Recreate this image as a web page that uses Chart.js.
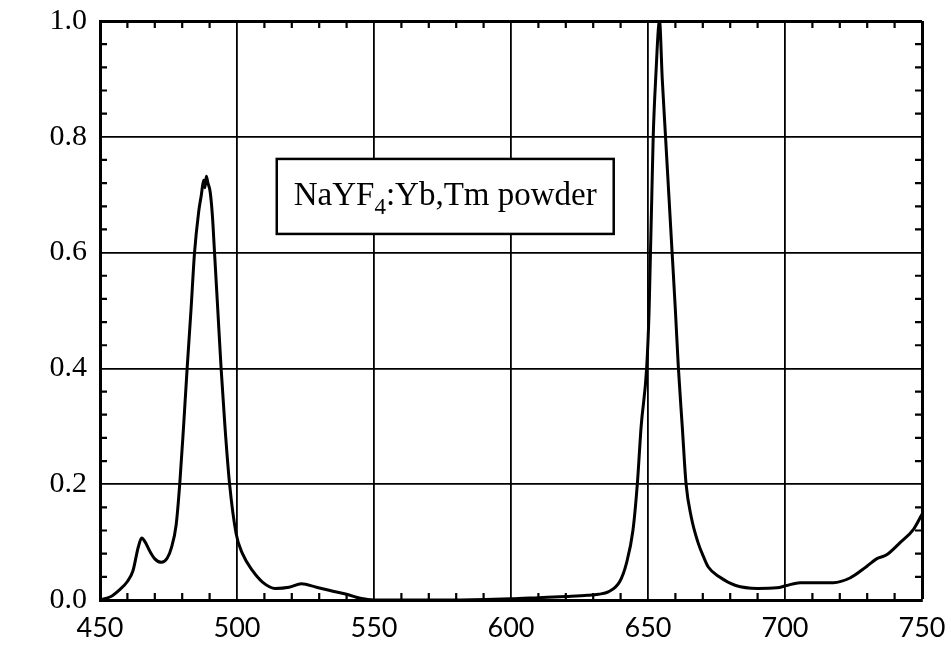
<!DOCTYPE html>
<html>
<head>
<meta charset="utf-8">
<script src="https://cdn.jsdelivr.net/npm/chart.js@4"></script>
<style>
  html, body { margin: 0; padding: 0; background: #fff; }
  #wrap { width: 951px; height: 645px; }
</style>
</head>
<body>
<div id="wrap"><canvas id="spectrum"></canvas></div>
<script>
// emission spectrum
const wavelength = [
  450, 454, 457, 460, 462, 464, 465.2, 466.5, 468.2, 470, 472.4, 474.5, 476.1, 477.8,
  479.1, 480.5, 481.8, 483.2, 484.5, 486, 487, 487.8, 488.3, 488.8, 489.4, 490.2, 491,
  491.8, 493, 494.2, 495.6, 497.3, 499.7, 502, 505.6, 509.3, 514, 519, 523.5, 529, 535,
  540, 545, 550, 580, 600, 610, 620, 628, 632, 635.5, 639.7, 642.1, 644.5, 646.1, 647.5,
  649.5, 650.4, 650.9, 651.4, 651.9, 652.8, 654.2, 655.2, 656.4, 657.6, 658.8, 660,
  661.1, 662.5, 663.9, 665.8, 668.2, 670.5, 672, 676, 682, 690, 697, 700.6, 705.5, 712,
  717.6, 723.7, 729.8, 733.4, 737.1, 742, 746.9, 750
];
const intensity = [
  0, 0.006, 0.017, 0.032, 0.05, 0.092, 0.107, 0.1, 0.084, 0.071, 0.065, 0.072, 0.091, 0.13,
  0.2, 0.3, 0.4, 0.5, 0.6, 0.67, 0.7, 0.725, 0.712, 0.732, 0.72, 0.705, 0.665,
  0.6, 0.5, 0.4, 0.3, 0.2, 0.114, 0.08, 0.051, 0.031, 0.02, 0.022, 0.028, 0.022, 0.015,
  0.01, 0.003, 0, 0, 0.002, 0.004, 0.006, 0.008, 0.01, 0.014, 0.032, 0.063, 0.12, 0.2, 0.3,
  0.4, 0.5, 0.6, 0.7, 0.8, 0.9, 1.0, 0.9, 0.8, 0.7, 0.6, 0.5,
  0.4, 0.3, 0.2, 0.143, 0.1, 0.072, 0.057, 0.04, 0.025, 0.02, 0.021, 0.025, 0.03, 0.03,
  0.03, 0.038, 0.058, 0.071, 0.078, 0.099, 0.122, 0.148
];
const xTicks = [450, 500, 550, 600, 650, 700, 750];
const yTicks = [0, 0.2, 0.4, 0.6, 0.8, 1.0];
const labelParts = ['NaYF', '4', ':Yb,Tm powder'];
const labelAt = { x: 576, y: 0.697 };

const points = wavelength.map((w, i) => ({ x: w, y: intensity[i] }));

// short inward ticks between the grid lines, on all four sides
const minorTicks = {
  id: 'minorTicks',
  afterDraw(chart) {
    const { ctx, chartArea: a, scales: { x, y } } = chart;
    ctx.save();
    ctx.strokeStyle = '#000';
    ctx.lineWidth = 2.2;
    ctx.beginPath();
    for (let v = xTicks[0]; v <= xTicks[xTicks.length - 1]; v += 10) {
      if (xTicks.includes(v)) continue;
      const px = x.getPixelForValue(v);
      ctx.moveTo(px, a.bottom); ctx.lineTo(px, a.bottom - 7);
      ctx.moveTo(px, a.top); ctx.lineTo(px, a.top + 7);
    }
    for (let k = 0; k <= 25; k++) {
      if (k % 5 === 0) continue;
      const py = y.getPixelForValue(k * 0.04);
      ctx.moveTo(a.left, py); ctx.lineTo(a.left + 7, py);
      ctx.moveTo(a.right, py); ctx.lineTo(a.right - 7, py);
    }
    ctx.stroke();
    ctx.restore();
  }
};

// the boxed sample label
const sampleLabel = {
  id: 'sampleLabel',
  afterDraw(chart) {
    const { ctx, scales: { x, y } } = chart;
    const cx = x.getPixelForValue(labelAt.x);
    const cy = y.getPixelForValue(labelAt.y);
    const big = '33px "Liberation Serif"';
    const small = '23px "Liberation Serif"';
    ctx.save();
    ctx.font = big;
    const w0 = ctx.measureText(labelParts[0]).width;
    const w2 = ctx.measureText(labelParts[2]).width;
    ctx.font = small;
    const w1 = ctx.measureText(labelParts[1]).width;
    const total = w0 + w1 + w2;
    const bw = total + 34, bh = 75;
    ctx.fillStyle = '#fff';
    ctx.fillRect(cx - bw / 2, cy - bh / 2, bw, bh);
    ctx.strokeStyle = '#000';
    ctx.lineWidth = 2.5;
    ctx.strokeRect(cx - bw / 2, cy - bh / 2, bw, bh);
    ctx.fillStyle = '#000';
    ctx.textBaseline = 'alphabetic';
    let tx = cx - total / 2;
    const base = cy + 9;
    ctx.font = big;
    ctx.fillText(labelParts[0], tx, base);
    tx += w0;
    ctx.font = small;
    ctx.fillText(labelParts[1], tx, base + 9);
    tx += w1;
    ctx.font = big;
    ctx.fillText(labelParts[2], tx, base);
    ctx.restore();
  }
};

const edgeWidth = (ctx, max) => (ctx.tick && Math.abs(ctx.tick.value - max) < 1e-6 ? 3 : 1.8);

new Chart(document.getElementById('spectrum'), {
  type: 'scatter',
  data: {
    datasets: [{
      data: points,
      showLine: true,
      borderColor: '#000',
      borderWidth: 3,
      pointRadius: 0,
      cubicInterpolationMode: 'monotone'
    }]
  },
  options: {
    responsive: true,
    maintainAspectRatio: false,
    animation: false,
    layout: { padding: { top: 21, right: 29, left: 0, bottom: 0 } },
    plugins: { legend: { display: false }, tooltip: { enabled: false } },
    scales: {
      x: {
        type: 'linear',
        min: 450,
        max: 750,
        afterBuildTicks: (s) => { s.ticks = xTicks.map(v => ({ value: v })); },
        afterFit: (s) => { s.height = 45; s.paddingLeft = 0; s.paddingRight = 0; },
        ticks: {
          color: '#000',
          padding: 12,
          maxRotation: 0,
          font: { family: 'Lato', size: 27 }
        },
        grid: { color: '#000', lineWidth: (c) => edgeWidth(c, 750), drawTicks: false },
        border: { display: true, color: '#000', width: 3 }
      },
      y: {
        min: 0,
        max: 1,
        afterBuildTicks: (s) => { s.ticks = yTicks.map(v => ({ value: v })); },
        afterFit: (s) => { s.width = 100; s.paddingTop = 0; s.paddingBottom = 0; },
        ticks: {
          color: '#000',
          padding: 13,
          callback: (v) => v.toFixed(1),
          font: { family: 'Liberation Serif', size: 30 }
        },
        grid: { color: '#000', lineWidth: (c) => edgeWidth(c, 1), drawTicks: false },
        border: { display: true, color: '#000', width: 3 }
      }
    }
  },
  plugins: [minorTicks, sampleLabel]
});
</script>
</body>
</html>
